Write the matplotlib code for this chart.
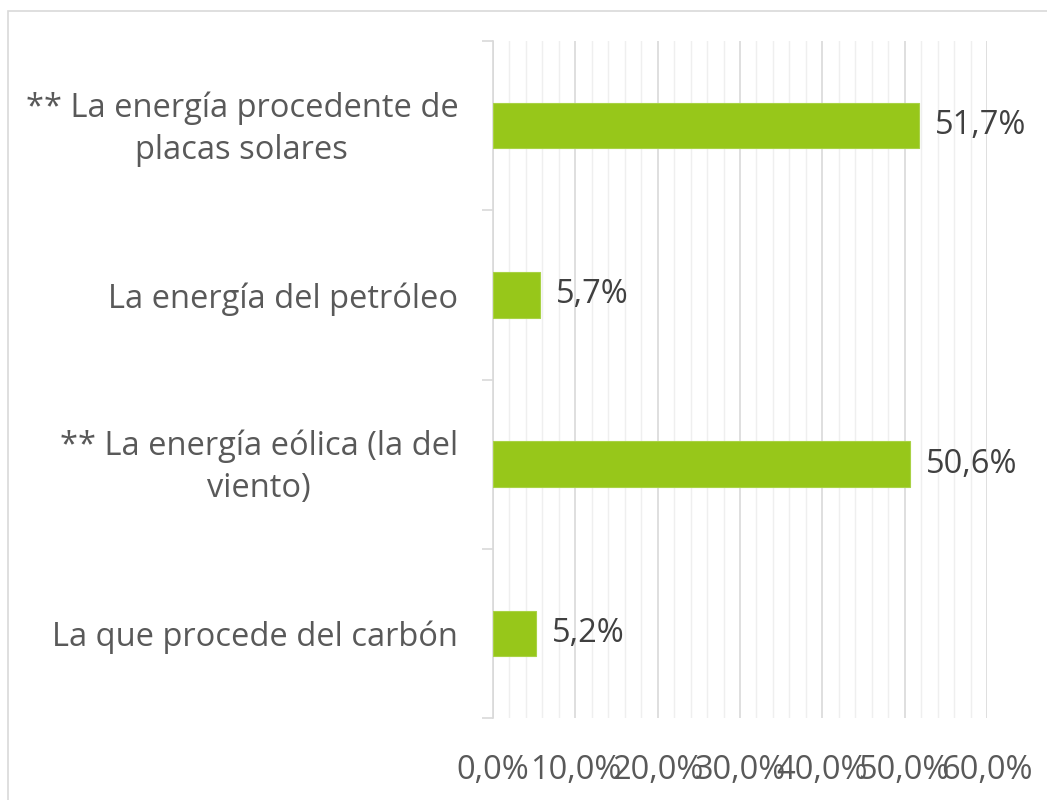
import matplotlib
matplotlib.use("Agg")
import matplotlib.pyplot as plt
import matplotlib.transforms as mtransforms
from matplotlib.ticker import MultipleLocator, FuncFormatter
from matplotlib.patches import Rectangle

categories = ["** La energía procedente de\nplacas solares",
              "La energía del petróleo",
              "** La energía eólica (la del\nviento)",
              "La que procede del carbón"]
values = [51.7, 5.7, 50.6, 5.2]

plt.rcParams['font.family'] = ['Open Sans', 'DejaVu Sans']
TXT = '#595959'
FS = 23.5
W, H = 1047, 800
fig = plt.figure(figsize=(W/100, H/100), dpi=100)
fig.patches.append(Rectangle((8/W, -0.1), 1.2, 1 - 11/H + 0.1, transform=fig.transFigure,
                             fill=False, edgecolor='#D9D9D9', linewidth=1.2))
ax = fig.add_axes([493/W, 82/H, (987-493)/W, (718-41)/H])

n = len(categories)
ypos = list(range(n-1, -1, -1))
ax.barh(ypos, values, height=0.27, color='#97C71A', edgecolor='#A9D245', linewidth=0.8, zorder=3)
for y, v in zip(ypos, values):
    ax.text(v + 2.0, y, f"{v:.1f}".replace('.', ',') + '%', va='center', ha='left',
            fontsize=FS, color='#404040')

ax.set_xlim(0, 60)
ax.set_ylim(-0.5, n - 0.5)
ax.xaxis.set_major_locator(MultipleLocator(10))
ax.xaxis.set_minor_locator(MultipleLocator(2))
ax.xaxis.set_major_formatter(FuncFormatter(lambda x, p: f"{x:.1f}".replace('.', ',') + '%'))
ax.grid(axis='x', which='major', color='#D9D9D9', linewidth=1.2, zorder=0)
ax.grid(axis='x', which='minor', color='#EFEFEF', linewidth=1.0, zorder=0)
ax.tick_params(axis='x', which='both', length=0, labelsize=FS, labelcolor=TXT, pad=26)

ax.set_yticks([i - 0.5 for i in range(n + 1)], minor=False)
ax.set_yticklabels([])
ax.set_yticks(ypos, minor=True)
ax.set_yticklabels(categories, minor=True)
ax.tick_params(axis='y', which='major', length=8, color='#D9D9D9', width=1.2)
ax.tick_params(axis='y', which='minor', length=0, labelsize=FS, labelcolor=TXT, pad=25)
shift = mtransforms.ScaledTranslation(0, 5/100, fig.dpi_scale_trans)
for lab in ax.get_yticklabels(minor=True):
    lab.set_multialignment('center')
    lab.set_linespacing(1.35)
    if '\n' in lab.get_text():
        lab.set_transform(lab.get_transform() + shift)

for s in ['top', 'right', 'bottom']:
    ax.spines[s].set_visible(False)
ax.spines['left'].set_color('#D9D9D9')
ax.spines['left'].set_linewidth(1.2)

fig.savefig('out.png', dpi=100)
